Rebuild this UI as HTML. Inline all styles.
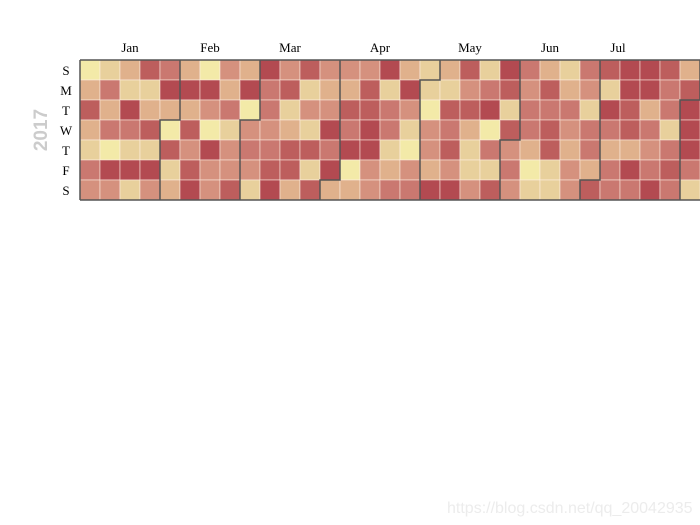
<!DOCTYPE html>
<html><head><meta charset="utf-8"><style>
html,body{margin:0;padding:0;background:#fff;width:700px;height:525px;overflow:hidden}
</style></head><body>
<svg id="s" width="700" height="525" xmlns="http://www.w3.org/2000/svg" font-family="Liberation Serif, serif">
<g id="cells"></g>
<g id="lines" fill="none" stroke="#555" stroke-width="1.5"></g>
<g font-size="13" fill="#000" text-anchor="middle">
<text x="130" y="52">Jan</text><text x="210" y="52">Feb</text><text x="290" y="52">Mar</text>
<text x="380" y="52">Apr</text><text x="470" y="52">May</text><text x="550" y="52">Jun</text><text x="618" y="52">Jul</text>
</g>
<g font-size="13" fill="#000" text-anchor="middle">
<text x="66" y="75">S</text><text x="66" y="95">M</text><text x="66" y="115">T</text><text x="66" y="135">W</text>
<text x="66" y="155">T</text><text x="66" y="175">F</text><text x="66" y="195">S</text>
</g>
<text x="0" y="0" transform="translate(47,130) rotate(-90)" text-anchor="middle" font-family="Liberation Sans, sans-serif" font-weight="bold" font-size="19" fill="#ccc">2017</text>
<text x="447" y="513" font-family="Liberation Sans, sans-serif" font-size="16" fill="#ececec">https://blog.csdn.net/qq_20042935</text>
</svg>
<script>
var pal=['#f3eaa8','#e8d09c','#e0b18c','#d5917e','#ca7870','#bd5e5d','#b34a51'];
var d=[
[0,2,5,2,1,4,3],[1,4,2,4,0,6,3],[2,1,6,4,1,6,1],[5,1,2,5,1,6,3],[4,6,2,0,5,1,2],
[2,6,2,5,3,5,6],[0,6,3,0,6,3,3],[3,2,4,1,3,3,5],[2,6,0,3,4,3,1],[6,4,4,3,4,5,6],
[3,5,1,2,5,5,2],[5,1,3,1,5,1,5],[3,2,3,6,4,6,2],[3,2,5,4,6,0,2],[3,5,5,6,6,3,3],
[6,1,4,4,1,2,4],[2,6,3,1,0,3,4],[1,1,0,3,3,2,6],[2,1,5,4,5,3,6],[5,3,5,2,1,1,3],
[1,4,6,0,4,1,5],[6,5,1,5,3,4,3],[4,3,4,4,2,0,1],[2,5,4,5,5,1,1],[1,2,4,3,2,3,3],
[4,3,1,4,4,2,5],[5,1,6,4,2,4,4],[6,6,5,5,2,6,4],[6,6,2,4,3,4,6],[5,4,4,1,4,5,4],[2,5,6,6,6,4,1]];
var ns='http://www.w3.org/2000/svg',g=document.getElementById('cells');
d.forEach(function(col,c){col.forEach(function(v,r){var e=document.createElementNS(ns,'rect');
e.setAttribute('x',80+20*c);e.setAttribute('y',60+20*r);e.setAttribute('width',20);e.setAttribute('height',20);
e.setAttribute('fill',pal[v]);e.setAttribute('stroke','rgba(255,240,230,0.55)');e.setAttribute('stroke-width','1');g.appendChild(e);});});
var L=document.getElementById('lines'),p='M80,60L700,60M80,200L700,200M80,60L80,200';
[[4,3],[8,3],[12,6],[17,1],[21,4],[25,6],[30,2]].forEach(function(m){var c=m[0],r=m[1];
var x1=80+20*(c+1),x0=80+20*c,y=60+20*r;p+='M'+x1+',60L'+x1+','+y+'L'+x0+','+y+'L'+x0+',200';});
var e=document.createElementNS(ns,'path');e.setAttribute('d',p);L.appendChild(e);
</script>
</body></html>
